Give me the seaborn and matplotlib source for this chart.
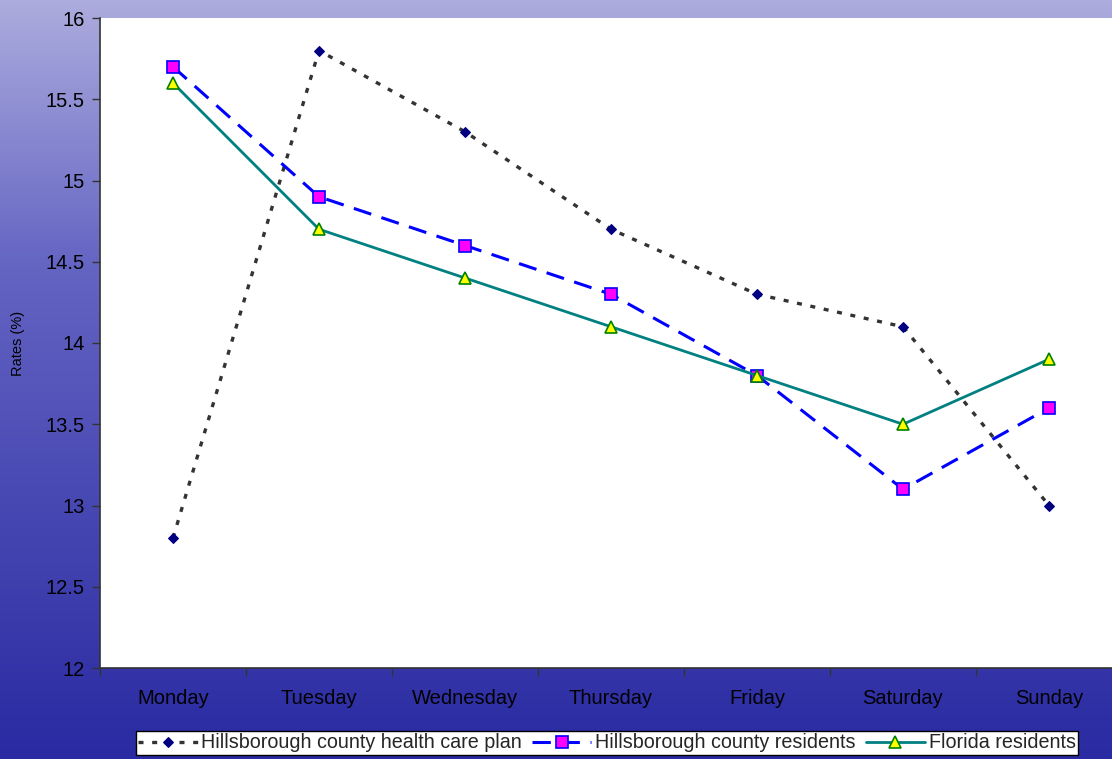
import numpy as np
import pandas as pd
import matplotlib
matplotlib.use("Agg")
import matplotlib.pyplot as plt
import seaborn as sns
from matplotlib.ticker import FixedLocator

days = ["Monday", "Tuesday", "Wednesday", "Thursday", "Friday", "Saturday", "Sunday"]
hcp = [12.8, 15.8, 15.3, 14.7, 14.3, 14.1, 13.0]
residents = [15.7, 14.9, 14.6, 14.3, 13.8, 13.1, 13.6]
florida = [15.6, 14.7, 14.4, 14.1, 13.8, 13.5, 13.9]
yticks = [12, 12.5, 13, 13.5, 14, 14.5, 15, 15.5, 16]

sns.set_style("white")
plt.rcParams['font.family'] = ['Liberation Sans', 'DejaVu Sans']

fig = plt.figure(figsize=(11.12, 7.59), dpi=100)

# background gradient
bg = fig.add_axes([0, 0, 1, 1], zorder=-10)
t = np.linspace(0, 1, 256)[:, None]
top = np.array([172, 172, 222]) / 255
mid = np.array([100, 100, 195]) / 255
bot = np.array([42, 42, 162]) / 255
grad = np.where(t < 0.35, top + (mid - top) * (t / 0.35), mid + (bot - mid) * ((t - 0.35) / 0.65))
img = np.repeat(grad[:, None, :], 4, axis=1)
bg.imshow(img, aspect='auto', extent=[0, 1, 0, 1], origin='upper')
bg.axis('off')

ax = fig.add_axes([100 / 1112, 1 - 668 / 759, 1022 / 1112, 650 / 759])
ax.set_facecolor('white')

df = pd.DataFrame({"day": days, "hcp": hcp, "res": residents, "fl": florida})

sns.lineplot(data=df, x="day", y="hcp", ax=ax, color="#333333", linewidth=2.4,
             linestyle=(0, (1.5, 2.6)), marker="D", markersize=5,
             markerfacecolor="#000080", markeredgecolor="#000080",
             label="Hillsborough county health care plan", sort=False)
sns.lineplot(data=df, x="day", y="res", ax=ax, color="#0000ff", linewidth=2.2,
             linestyle=(0, (6, 3.5)), marker="s", markersize=9,
             markerfacecolor="#ff00ff", markeredgecolor="#0000ff", markeredgewidth=1.2,
             label="Hillsborough county residents", sort=False)
sns.lineplot(data=df, x="day", y="fl", ax=ax, color="#008080", linewidth=2.0,
             linestyle="-", marker="^", markersize=9,
             markerfacecolor="#ffff00", markeredgecolor="#008000", markeredgewidth=1.2,
             label="Florida residents", sort=False)

ax.set_xlim(-0.5, 6.5)
ax.set_ylim(12, 16)
ax.set_yticks(yticks)
ax.set_yticklabels([f"{v:g}" for v in yticks], fontsize=14.5, color="black")
ax.set_xticks(range(len(days)))
ax.set_xticklabels(days, fontsize=14.5, color="black")
ax.xaxis.set_minor_locator(FixedLocator(np.arange(-0.5, 7, 1)))
ax.tick_params(axis='x', which='major', length=0, pad=15)
ax.tick_params(axis='x', which='minor', length=6, width=1, color='#333333', direction='out', bottom=True)
ax.tick_params(axis='y', which='major', length=6, width=1, color='#333333', direction='out', left=True, pad=5)
ax.set_xlabel("")
ax.set_ylabel("Rates (%)", fontsize=10.5, color="black")
ax.yaxis.set_label_coords(-75 / 1022, 0.5)
for s in ["top", "right"]:
    ax.spines[s].set_visible(False)
for s in ["left", "bottom"]:
    ax.spines[s].set_color("#333333")
    ax.spines[s].set_linewidth(1.2)

ax.get_legend().remove()
handles, labels = ax.get_legend_handles_labels()
leg = fig.legend(handles, labels, loc="center", bbox_to_anchor=(607 / 1112, 1 - 743 / 759),
                 ncol=3, fontsize=14.2, frameon=True, fancybox=False, framealpha=1,
                 edgecolor="black", facecolor="white", borderpad=0.12, handlelength=3.0,
                 handletextpad=0.2, columnspacing=0.5, borderaxespad=0)
leg.get_frame().set_linewidth(1.0)

fig.savefig("out.png", dpi=100)
